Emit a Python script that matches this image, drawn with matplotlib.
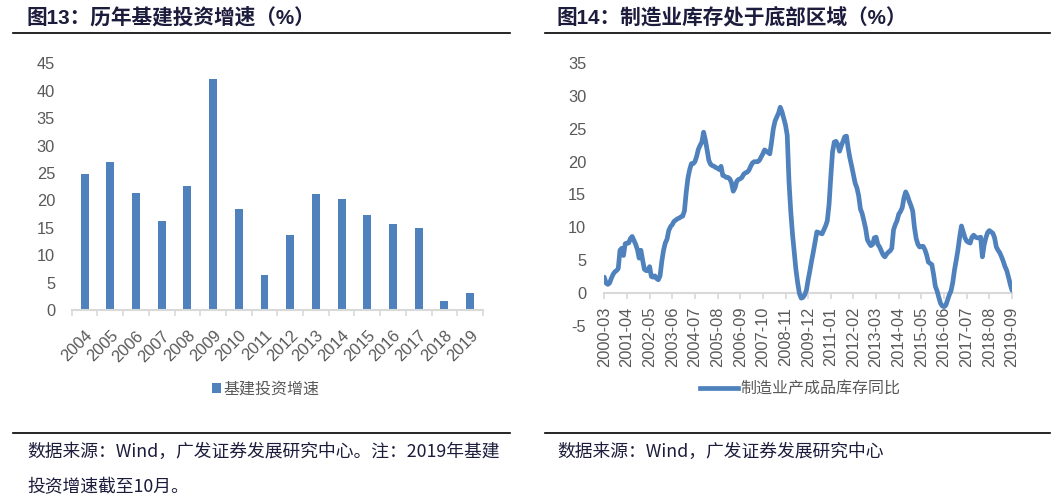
import matplotlib
matplotlib.use("Agg")
import matplotlib.pyplot as plt
from matplotlib.patches import Patch
from matplotlib.lines import Line2D
import numpy as np

plt.rcParams['font.family'] = ['Liberation Sans', 'Noto Sans CJK SC', 'DejaVu Sans']
plt.rcParams['axes.unicode_minus'] = False

# ---------------- data ----------------
years = ['2004', '2005', '2006', '2007', '2008', '2009', '2010', '2011',
         '2012', '2013', '2014', '2015', '2016', '2017', '2018', '2019']
infra_growth = [24.8, 27.0, 21.3, 16.2, 22.6, 42.1, 18.4, 6.4,
                13.7, 21.2, 20.3, 17.3, 15.7, 15.0, 1.6, 3.1]

inv_start = '2000-03'
inventory_yoy = [
    2.4, 1.5, 1.3, 1.5, 2.2, 2.8, 3.2, 3.4, 3.7, 6.5,
    6.8, 5.7, 7.5, 7.6, 7.6, 8.3, 8.6, 8.0, 7.4, 6.6,
    5.3, 6.5, 5.0, 3.6, 3.4, 3.4, 4.0, 2.5, 2.4, 2.6,
    2.2, 2.0, 2.6, 4.8, 6.5, 7.6, 8.2, 9.5, 10.1, 10.4,
    10.9, 11.1, 11.3, 11.4, 11.6, 11.7, 12.5, 15.3, 17.5, 18.8,
    19.7, 19.7, 20.0, 20.8, 21.9, 22.5, 23.0, 24.5, 23.3, 21.8,
    20.2, 19.6, 19.4, 19.3, 19.1, 19.0, 18.8, 19.3, 17.9, 17.8,
    17.6, 17.6, 17.4, 16.8, 15.5, 16.0, 17.0, 17.3, 17.4, 17.6,
    18.1, 18.3, 18.4, 18.7, 19.3, 19.8, 20.0, 20.0, 20.0, 20.2,
    20.7, 21.2, 21.8, 21.6, 21.4, 21.2, 23.0, 25.0, 26.2, 26.8,
    27.4, 28.3, 27.6, 26.6, 25.6, 24.0, 17.0, 12.5, 9.0, 6.2,
    3.5, 1.5, -0.1, -0.8, -0.7, -0.3, 0.4, 2.0, 3.4, 4.9,
    6.3, 7.8, 9.3, 9.2, 9.1, 9.0, 9.6, 10.2, 11.0, 13.5,
    17.7, 21.5, 23.0, 23.1, 22.6, 21.6, 22.4, 23.1, 23.8, 23.9,
    22.0, 20.5, 19.3, 18.0, 16.7, 16.0, 14.8, 12.8, 12.1, 11.0,
    9.8, 8.1, 7.6, 7.2, 7.4, 8.4, 8.5, 7.4, 7.0, 6.4,
    5.8, 5.5, 5.9, 6.2, 6.4, 6.8, 9.6, 10.4, 11.0, 12.0,
    12.4, 13.0, 14.5, 15.4, 14.8, 14.0, 13.3, 12.5, 10.0, 8.3,
    7.4, 7.0, 7.1, 7.1, 6.6, 5.8, 4.7, 4.5, 4.3, 2.8,
    1.0, 0.3, -0.7, -1.6, -2.0, -2.1, -1.9, -1.1, -0.3, 0.3,
    1.6, 3.5, 5.0, 6.6, 8.6, 10.2, 9.3, 8.4, 7.9, 7.7,
    7.6, 8.5, 8.8, 8.5, 8.4, 8.4, 8.5, 5.5, 7.3, 8.4,
    9.2, 9.5, 9.3, 9.1, 8.4, 7.0, 6.5, 6.1, 5.5, 4.8,
    4.0, 3.4, 2.4, 1.3, 0.4]

inv_tick_labels = ['2000-03', '2001-04', '2002-05', '2003-06', '2004-07', '2005-08',
                   '2006-09', '2007-10', '2008-11', '2009-12', '2011-01', '2012-02',
                   '2013-03', '2014-04', '2015-05', '2016-06', '2017-07', '2018-08',
                   '2019-09']

title_left = '图13：历年基建投资增速（%）'
title_right = '图14：制造业库存处于底部区域（%）'
legend_left = '基建投资增速'
legend_right = '制造业产成品库存同比'
source_left_1 = '数据来源：Wind，广发证券发展研究中心。注：2019年基建'
source_left_2 = '投资增速截至10月。'
source_right = '数据来源：Wind，广发证券发展研究中心'

# ---------------- style ----------------
W, H = 1061, 501
BLUE = '#4f81bd'
AXGRAY = '#d9d9d9'
LBLGRAY = '#595959'
NAVY = '#1c1c3c'
CJK = ['Noto Sans CJK SC', 'DejaVu Sans']
TICKSIZE = 11.8

fig = plt.figure(figsize=(W / 100, H / 100), dpi=100)


def fx(px):
    return px / W


def fy(py):
    return 1 - py / H


# ---------------- left chart ----------------
axL = fig.add_axes([fx(71.7), fy(310), fx(483 - 71.7), (310 - 63.3) / H])
xL = np.arange(len(years))
axL.bar(xL, infra_growth, width=0.31, color=BLUE, zorder=2)
axL.set_xlim(-0.5, len(years) - 0.5)
axL.set_ylim(0, 45)
axL.set_yticks(np.arange(0, 46, 5))
for s in ['top', 'right', 'left']:
    axL.spines[s].set_visible(False)
axL.spines['bottom'].set_color(AXGRAY)
axL.spines['bottom'].set_linewidth(1.5)
axL.tick_params(axis='y', length=0, pad=12, labelsize=TICKSIZE, labelcolor=LBLGRAY)
axL.set_xticks(xL)
axL.set_xticklabels(years, rotation=45, ha='right', rotation_mode='anchor')
axL.tick_params(axis='x', which='major', length=0, pad=13, labelsize=TICKSIZE,
                labelcolor=LBLGRAY)
axL.set_xticks(np.arange(-0.5, len(years), 1.0), minor=True)
axL.tick_params(axis='x', which='minor', length=4, width=1.2, color=AXGRAY, direction='out')

legL = fig.legend(handles=[Patch(facecolor=BLUE, edgecolor='none')], labels=[legend_left],
                  loc='center', bbox_to_anchor=(fx(266), fy(389)), frameon=False,
                  handlelength=0.55, handleheight=0.55, handletextpad=0.15,
                  prop={'family': CJK, 'size': 11.5})
for t in legL.get_texts():
    t.set_color(LBLGRAY)

# ---------------- right chart ----------------
axR = fig.add_axes([fx(604.3), fy(325.7), fx(1012 - 604.3), (325.7 - 63.3) / H])
xR = np.arange(len(inventory_yoy))
axR.plot(xR, inventory_yoy, color=BLUE, linewidth=3.4, solid_capstyle='round',
         solid_joinstyle='round', zorder=3)
axR.set_xlim(0, len(inventory_yoy) - 1)
axR.set_ylim(-5, 35)
axR.set_yticks(np.arange(-5, 36, 5))
for s in ['top', 'right', 'left']:
    axR.spines[s].set_visible(False)
axR.spines['bottom'].set_position(('data', 0))
axR.spines['bottom'].set_color(AXGRAY)
axR.spines['bottom'].set_linewidth(1.5)
axR.spines['bottom'].set_zorder(1)
axR.tick_params(axis='y', length=0, pad=13, labelsize=TICKSIZE, labelcolor=LBLGRAY)
axR.set_xticks(np.arange(0, len(inventory_yoy), 13))
axR.set_xticklabels(inv_tick_labels, rotation=90, ha='center', va='top')
axR.tick_params(axis='x', length=4, width=1.2, color=AXGRAY, pad=6,
                labelsize=TICKSIZE, labelcolor=LBLGRAY)

legR = fig.legend(handles=[Line2D([0], [0], color=BLUE, linewidth=3.4)], labels=[legend_right],
                  loc='center', bbox_to_anchor=(fx(800), fy(389)), frameon=False,
                  handlelength=2.4, handletextpad=0.15,
                  prop={'family': CJK, 'size': 11.5})
for t in legR.get_texts():
    t.set_color(LBLGRAY)

# ---------------- titles, rules, sources ----------------
fig.text(fx(27), fy(17), title_left, fontsize=14.9, fontweight='bold', color=NAVY,
         ha='left', va='center', family=['Liberation Sans', 'Noto Sans CJK SC'])
fig.text(fx(557), fy(17), title_right, fontsize=14.9, fontweight='bold', color=NAVY,
         ha='left', va='center', family=['Liberation Sans', 'Noto Sans CJK SC'])

for (x0, x1) in [(13, 510), (545, 1050)]:
    fig.add_artist(Line2D([fx(x0), fx(x1)], [fy(33), fy(33)], color='black', linewidth=1.2))
    fig.add_artist(Line2D([fx(x0), fx(x1)], [fy(433), fy(433)], color='black', linewidth=1.2))

fig.text(fx(27), fy(452), source_left_1, fontsize=12.8, color=NAVY, ha='left', va='center',
         family=CJK)
fig.text(fx(27), fy(487), source_left_2, fontsize=12.8, color=NAVY, ha='left', va='center',
         family=CJK)
fig.text(fx(557), fy(452), source_right, fontsize=12.8, color=NAVY, ha='left', va='center',
         family=CJK)

fig.savefig('out.png', dpi=100)
